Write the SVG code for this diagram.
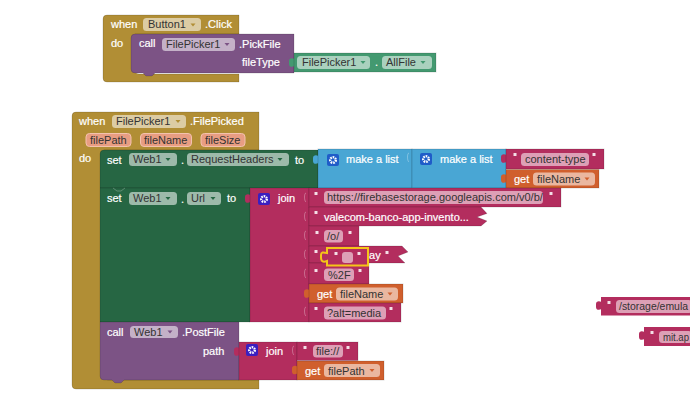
<svg xmlns="http://www.w3.org/2000/svg" width="690" height="405" viewBox="0 0 690 405">
<style>
text{font-family:"Liberation Sans",Arial,sans-serif;font-size:11px;fill:#fff;stroke:#fff;stroke-width:.2}
text.f{fill:#333;stroke:none}
.gold{fill:#b18e35}.purple{fill:#7c5385}.dgreen{fill:#266643}.blue{fill:#49a6d4}.mag{fill:#b32d5e}.org{fill:#d05f2d}.teal{fill:#439970}
.edge{stroke:#000;stroke-opacity:.14;stroke-width:1}
.fld{fill:#fff;fill-opacity:.55}
.par{fill:#e89d82;stroke:#f3c2ae;stroke-width:1}
.sock{fill:none;stroke:#fff;stroke-opacity:.3;stroke-width:1}
.q{fill:#fff;fill-opacity:.85}
.gb1{fill:#1f5cc8}.gb2{fill:#3a1fc0}
.gear{fill:none;stroke:#fff;stroke-width:2.4;stroke-dasharray:1.6 .9}
</style>
<defs>
<path id="tab" d="M0.5,0V3C-2,1.5-5,2-5,5V8C-5,11-2,11.500.5,10V14Z"/>
<path id="tri" d="M-2.500,-1.500H2.500L0,1.500Z"/>
<g id="quote"><rect x="-1.500" y="-2" width="3" height="3" class="q"/></g>
<g id="gear1"><rect x="0" y="0" width="12" height="12" rx="2" class="gb1"/><circle cx="6" cy="6" r="2.800" class="gear"/></g>
<g id="gear2"><rect x="0" y="0" width="12" height="12" rx="2" class="gb2"/><circle cx="6" cy="6" r="2.800" class="gear"/></g>
</defs>
<rect width="690" height="405" fill="#fff"/>

<g id="when-button1-click">
<path class="gold edge" d="M107,15H239V34H135V70q0,4 4,4H239V82H107q-4,0-4-4V19q0-4 4-4Z"/>
<text x="111" y="28">when</text>
<rect x="143" y="18" width="58" height="13" rx="3.500" class="fld"/>
<text x="148" y="28" class="f">Button1</text>
<use href="#tri" x="193" y="25" style="fill:#b18e35"/>
<text x="205" y="28">.Click</text>
<text x="111" y="47">do</text>
</g>

<g id="call-pickfile">
<path class="purple edge" d="M131,38q0-4 4-4H294V73H155l-3,3h-6l-3-3H135q-4,0-4-4Z"/>
<text x="139" y="47">call</text>
<rect x="162" y="38" width="73" height="13" rx="3.500" class="fld"/>
<text x="166" y="48" class="f">FilePicker1</text>
<use href="#tri" x="227" y="44.500" style="fill:#7c5385"/>
<text x="239" y="48">.PickFile</text>
<text x="242" y="66">fileType</text>
</g>

<g id="filepicker-allfile">
<use href="#tab" x="294" y="56" class="teal"/>
<rect x="294" y="53" width="142" height="19" class="teal edge"/>
<rect x="297" y="56" width="73" height="13" rx="3.500" class="fld"/>
<text x="302" y="66" class="f">FilePicker1</text>
<use href="#tri" x="363" y="62.500" style="fill:#439970"/>
<text x="375" y="66">.</text>
<rect x="382" y="56" width="50" height="13" rx="3.500" class="fld"/>
<text x="386" y="66" class="f">AllFile</text>
<use href="#tri" x="423" y="62.500" style="fill:#439970"/>
</g>

<g id="when-filepicker-filepicked">
<path class="gold edge" d="M76,112H259V150H104V376q0,4 4,4H259V389H76q-4,0-4-4V116q0-4 4-4Z"/>
<text x="79" y="125">when</text>
<rect x="112" y="115" width="74" height="13" rx="3.500" class="fld"/>
<text x="116" y="125" class="f">FilePicker1</text>
<use href="#tri" x="178" y="121.500" style="fill:#b18e35"/>
<text x="190" y="125">.FilePicked</text>
<rect x="86" y="133.500" width="45" height="13" rx="3.500" class="par"/>
<text x="90" y="144" class="f">filePath</text>
<rect x="140.500" y="133.500" width="51" height="13" rx="3.500" class="par"/>
<text x="144" y="144" class="f">fileName</text>
<rect x="201" y="133.500" width="44" height="13" rx="3.500" class="par"/>
<text x="205" y="144" class="f">fileSize</text>
<text x="79" y="162">do</text>
</g>

<g id="set-requestheaders">
<path class="dgreen edge" d="M104,150H318V188H100V154q0-4 4-4Z"/>
<text x="107" y="164">set</text>
<rect x="129" y="153" width="48" height="13" rx="3.500" class="fld"/>
<text x="133" y="163" class="f">Web1</text>
<use href="#tri" x="168" y="159.500" style="fill:#266643"/>
<text x="181" y="164">.</text>
<rect x="187" y="153" width="102" height="13" rx="3.500" class="fld"/>
<text x="191" y="163" class="f">RequestHeaders</text>
<use href="#tri" x="280" y="159.500" style="fill:#266643"/>
<text x="295" y="164">to</text>
</g>

<g id="make-a-list-1">
<use href="#tab" x="318" y="153" class="blue"/>
<rect x="318" y="149" width="94" height="39" class="blue edge"/>
<use href="#gear1" x="327" y="154"/>
<text x="346" y="163">make a list</text>
<path class="sock" d="M409,153c-2,0-2,8,0,9"/>
</g>

<g id="make-a-list-2">
<rect x="412" y="149" width="94" height="39" class="blue edge"/>
<use href="#gear1" x="420" y="153"/>
<text x="440" y="163">make a list</text>
</g>

<g id="text-content-type">
<use href="#tab" x="506" y="152" class="mag"/>
<rect x="506" y="149" width="98" height="20" class="mag edge"/>
<use href="#quote" x="515" y="155"/>
<rect x="521" y="153" width="68" height="13" rx="3.500" class="fld"/>
<text x="525" y="163" class="f">content-type</text>
<use href="#quote" x="594" y="155"/>
</g>

<g id="get-filename-1">
<use href="#tab" x="506" y="172" class="org"/>
<rect x="506" y="169.500" width="93" height="18.500" class="org edge"/>
<text x="514" y="183">get</text>
<rect x="533" y="172.500" width="62" height="13" rx="3.500" class="fld"/>
<text x="537" y="183" class="f">fileName</text>
<use href="#tri" x="587" y="179" style="fill:#d05f2d"/>
</g>

<g id="set-url">
<path class="dgreen edge" d="M100,188H250V322H100Z"/>
<path d="M113,188l4,3h4l4-3" fill="none" stroke="#fff" stroke-opacity=".25"/>
<text x="107" y="202">set</text>
<rect x="129" y="192" width="48" height="13" rx="3.500" class="fld"/>
<text x="133" y="202" class="f">Web1</text>
<use href="#tri" x="168" y="198.500" style="fill:#266643"/>
<text x="181" y="203">.</text>
<rect x="187" y="192" width="34" height="13" rx="3.500" class="fld"/>
<text x="191" y="202" class="f">Url</text>
<use href="#tri" x="213" y="198.500" style="fill:#266643"/>
<text x="227" y="202">to</text>
</g>

<g id="join-url">
<use href="#tab" x="250" y="192" class="mag"/>
<rect x="250" y="188" width="59" height="134" class="mag edge"/>
<use href="#gear2" x="258" y="193"/>
<text x="278" y="202">join</text>
<path class="sock" d="M306,193c-2,0-2,8,0,9M306,212c-2,0-2,8,0,9M306,231c-2,0-2,8,0,9M306,250c-2,0-2,8,0,9M306,269c-2,0-2,8,0,9M306,307c-2,0-2,8,0,9"/>
</g>

<g id="text-url-base">
<rect x="309" y="188" width="252" height="19" class="mag edge"/>
<use href="#quote" x="316" y="194"/>
<rect x="324" y="191" width="219" height="13" rx="3.500" class="fld"/>
<text x="327" y="201" class="f">https://firebasestorage.googleapis.com/v0/b/</text>
<use href="#quote" x="551" y="194"/>
</g>

<g id="text-valecom">
<path class="mag edge" d="M309,207H481L487,213.500L477,217L487,221L481,226H309Z"/>
<use href="#quote" x="316" y="213"/>
<text x="324" y="221">valecom-banco-app-invento...</text>
</g>

<g id="text-o">
<rect x="309" y="226" width="50" height="20" class="mag edge"/>
<use href="#quote" x="317" y="233"/>
<rect x="324" y="230" width="19" height="12.500" rx="3.500" class="fld"/>
<text x="327" y="240" class="f">/o/</text>
<use href="#quote" x="350" y="233"/>
</g>

<g id="text-pay">
<path class="mag edge" d="M309,246H402L408,252L398,256L405,263H309Z"/>
<use href="#quote" x="316" y="252"/>
<text x="363" y="259">pay</text>
<use href="#quote" x="387" y="253"/>
</g>

<g id="text-2f">
<rect x="309" y="263" width="60" height="21" class="mag edge"/>
<use href="#quote" x="316" y="271"/>
<rect x="324" y="268.500" width="30" height="12.500" rx="3.500" class="fld"/>
<text x="328" y="279" class="f">%2F</text>
<use href="#quote" x="360" y="271"/>
</g>

<g id="text-empty-selected">
<path class="mag" stroke="#f5c518" stroke-width="2" d="M327,248H368V265.500H327V261C322,263 321,260 321,258V255C321,252 323,252 327,253Z"/>
<use href="#quote" x="336" y="254"/>
<rect x="342" y="252" width="11" height="11" rx="3" class="fld"/>
<use href="#quote" x="359" y="254"/>
</g>

<g id="get-filename-2">
<use href="#tab" x="309" y="287" class="org"/>
<rect x="309" y="284" width="94" height="19" class="org edge"/>
<text x="317" y="298">get</text>
<rect x="336" y="287.500" width="62" height="13" rx="3.500" class="fld"/>
<text x="340" y="298" class="f">fileName</text>
<use href="#tri" x="390" y="294" style="fill:#d05f2d"/>
</g>

<g id="text-alt-media">
<rect x="309" y="303" width="92" height="19" class="mag edge"/>
<use href="#quote" x="316" y="309"/>
<rect x="324" y="306.500" width="62" height="13" rx="3.500" class="fld"/>
<text x="327" y="317" class="f">?alt=media</text>
<use href="#quote" x="391" y="309"/>
</g>

<g id="call-postfile">
<path class="purple edge" d="M100,322H239V380H124l-3,3h-6l-3-3H104q-4,0-4-4Z"/>
<text x="107" y="336">call</text>
<rect x="130" y="326" width="48" height="12" rx="3.500" class="fld"/>
<text x="134" y="336" class="f">Web1</text>
<use href="#tri" x="170" y="332" style="fill:#7c5385"/>
<text x="182" y="336">.PostFile</text>
<text x="203" y="355">path</text>
</g>

<g id="join-path">
<use href="#tab" x="239" y="345" class="mag"/>
<rect x="239" y="342" width="58" height="38" class="mag edge"/>
<use href="#gear2" x="246" y="344"/>
<text x="266" y="355">join</text>
<path class="sock" d="M294,346c-2,0-2,8,0,9"/>
</g>

<g id="text-file">
<rect x="297" y="342" width="61" height="18.500" class="mag edge"/>
<use href="#quote" x="305" y="348"/>
<rect x="313" y="345" width="30" height="12.500" rx="3.500" class="fld"/>
<text x="316" y="355" class="f">file://</text>
<use href="#quote" x="348" y="348"/>
</g>

<g id="get-filepath">
<use href="#tab" x="297" y="363.500" class="org"/>
<rect x="297" y="361" width="87" height="19" class="org edge"/>
<text x="305" y="374.500">get</text>
<rect x="324" y="364" width="56" height="13" rx="3.500" class="fld"/>
<text x="328" y="374.500" class="f">filePath</text>
<use href="#tri" x="372" y="370.500" style="fill:#d05f2d"/>
</g>

<g id="text-storage">
<use href="#tab" x="601" y="299" class="mag"/>
<rect x="601" y="297" width="90" height="18.500" class="mag"/>
<use href="#quote" x="609" y="303"/>
<rect x="616" y="300" width="76" height="13" rx="3.500" class="fld"/>
<text x="619" y="310" class="f" textLength="69" lengthAdjust="spacingAndGlyphs">/storage/emula</text>
</g>

<g id="text-mit">
<use href="#tab" x="644" y="329" class="mag"/>
<rect x="644" y="327" width="47" height="19" class="mag"/>
<use href="#quote" x="652" y="333"/>
<rect x="659" y="331" width="33" height="12" rx="3.500" class="fld"/>
<text x="663" y="341" class="f" textLength="26" lengthAdjust="spacingAndGlyphs">mit.ap</text>
</g>
</svg>
